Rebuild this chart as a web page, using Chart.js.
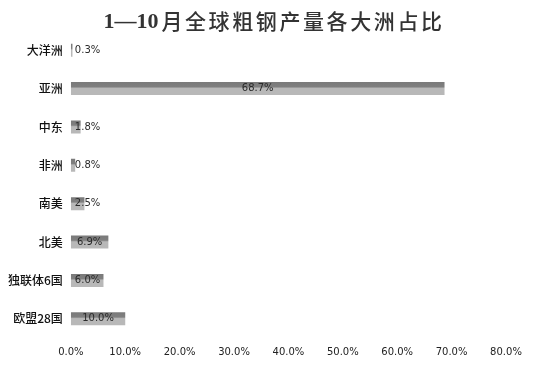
<!DOCTYPE html>
<html><head><meta charset="utf-8">
<script src="https://cdn.jsdelivr.net/npm/chart.js@4.4.0/dist/chart.umd.min.js"></script>
<style>html,body{margin:0;padding:0;background:#fff}#wrap{width:537px;height:366px}</style>
</head><body><div id="wrap"><canvas id="c" width="537" height="366"></canvas></div>
<script>
const titleLead = "1—10";
const titleRest = "月全球粗钢产量各大洲占比";
const categories = ["大洋洲","亚洲","中东","非洲","南美","北美","独联体6国","欧盟28国"];
const shares = [0.3, 68.7, 1.8, 0.8, 2.5, 6.9, 6.0, 10.0];
const xTicks = [0,10,20,30,40,50,60,70,80];

function barFill(ctx){
  const chart = ctx.chart;
  const ys = chart.scales.y;
  if (!ys || ctx.dataIndex === undefined) return '#aaa';
  const y = ys.getPixelForValue(ctx.dataIndex);
  if (!Number.isFinite(y)) return '#aaa';
  const h = 13;
  const g = chart.ctx.createLinearGradient(0, y - h/2, 0, y + h/2);
  g.addColorStop(0, '#7a7a7a');
  g.addColorStop(0.36, '#7f7f7f');
  g.addColorStop(0.42, '#9a9a9a');
  g.addColorStop(0.48, '#b8b8b8');
  g.addColorStop(1, '#b8b8b8');
  return g;
}

const labelPlugin = {
  id: 'labels',
  afterDatasetsDraw(chart){
    const c = chart.ctx;
    const meta = chart.getDatasetMeta(0);
    const x0 = chart.scales.x.getPixelForValue(0);
    c.save();
    c.font = '10px "DejaVu Sans", sans-serif';
    c.fillStyle = '#2a2a2a';
    c.textBaseline = 'middle';
    c.textAlign = 'center';
    meta.data.forEach((bar, i) => {
      const t = shares[i].toFixed(1) + '%';
      const w = c.measureText(t).width;
      let cx = (x0 + bar.x) / 2;
      cx = Math.max(cx, x0 + 4 + w/2);
      c.fillText(t, cx, bar.y);
    });
    c.restore();
  },
  afterDraw(chart){
    const c = chart.ctx;
    c.save();
    c.fillStyle = '#333';
    c.textBaseline = 'middle';
    c.textAlign = 'left';
    const f1 = 'bold 22px "Liberation Serif", serif';
    const f2 = '500 21px "Noto Sans CJK SC", sans-serif';
    c.font = f1; const w1 = c.measureText(titleLead).width;
    c.font = f2; c.letterSpacing = '2.6px'; const w2 = c.measureText(titleRest).width;
    const x = 274 - (w1 + w2 + 3) / 2;
    c.letterSpacing = '0px';
    c.font = f1; c.fillText(titleLead, x, 22);
    c.font = f2; c.letterSpacing = '2.6px'; c.fillText(titleRest, x + w1 + 3, 21);
    c.restore();
  }
};

new Chart(document.getElementById('c'), {
  type: 'bar',
  data: {
    labels: categories,
    datasets: [{
      data: shares,
      backgroundColor: barFill,
      borderWidth: 0,
      barPercentage: 0.85,
      categoryPercentage: 0.4
    }]
  },
  options: {
    indexAxis: 'y',
    responsive: false,
    animation: false,
    layout: { padding: { top: 31, bottom: 0, left: 0, right: 31 } },
    plugins: { legend: { display: false }, title: { display: false }, tooltip: { enabled: false } },
    scales: {
      x: {
        min: 0, max: 80,
        afterBuildTicks(scale){ scale.ticks = xTicks.map(v => ({ value: v })); },
        grid: { display: false, drawTicks: false },
        border: { display: false },
        ticks: {
          padding: 8,
          maxRotation: 0,
          color: '#222',
          font: { family: '"DejaVu Sans", sans-serif', size: 10 },
          callback: v => Number(v).toFixed(1) + '%'
        }
      },
      y: {
        grid: { display: false, drawTicks: false },
        border: { display: false },
        ticks: {
          padding: 8,
          color: '#111',
          font: { family: '"Noto Sans CJK SC", sans-serif', size: 12, weight: '500' }
        }
      }
    }
  },
  plugins: [labelPlugin]
});
</script>
</body></html>
